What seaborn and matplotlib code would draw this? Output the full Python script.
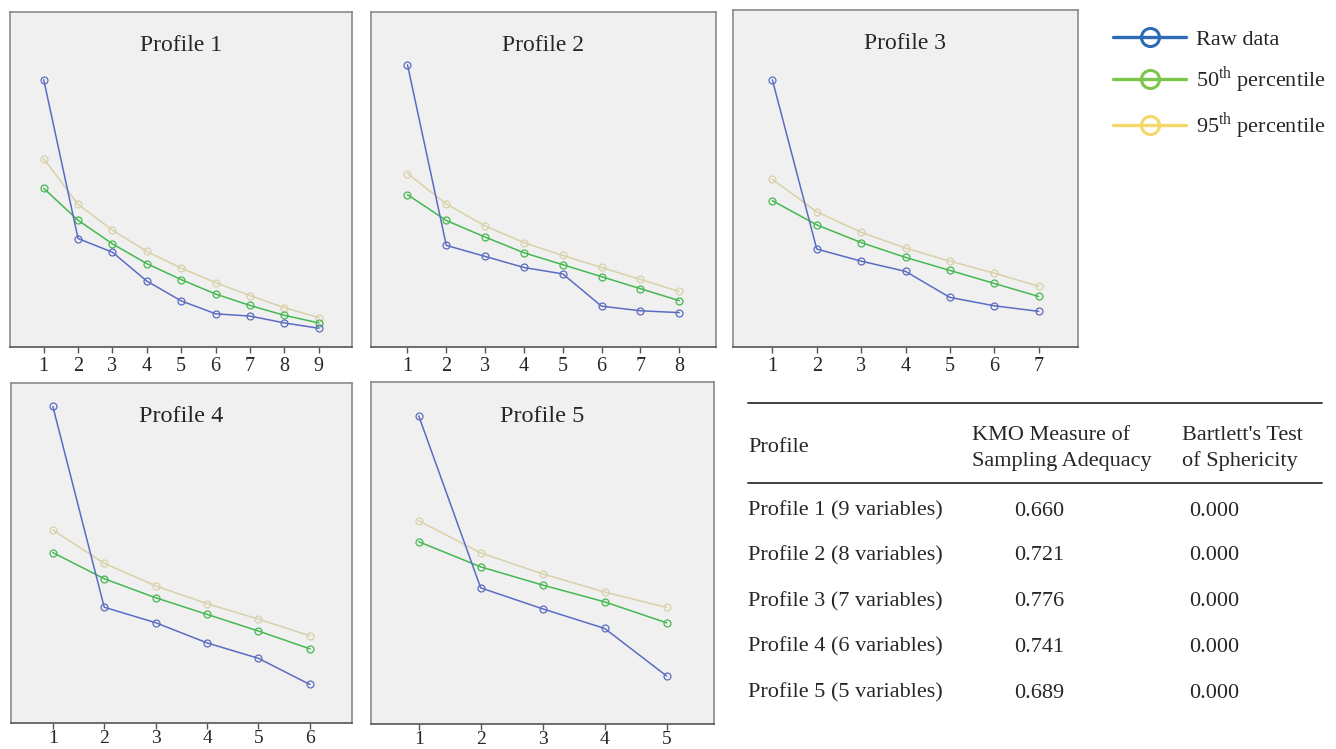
import pandas as pd
import matplotlib
matplotlib.use("Agg")
import matplotlib.pyplot as plt
import seaborn as sns
from matplotlib.lines import Line2D

# eigenvalues (raw data vs. parallel analysis percentiles)
raw_p1 = [3.51, 1.42, 1.24, 0.86, 0.60, 0.43, 0.40, 0.31, 0.24]
p50_p1 = [2.08, 1.66, 1.35, 1.09, 0.88, 0.69, 0.54, 0.41, 0.31]
p95_p1 = [2.47, 1.87, 1.53, 1.25, 1.03, 0.84, 0.67, 0.51, 0.38]

raw_p2 = [3.06, 1.10, 0.98, 0.86, 0.79, 0.44, 0.39, 0.37]
p50_p2 = [1.65, 1.37, 1.19, 1.02, 0.89, 0.76, 0.63, 0.50]
p95_p2 = [1.88, 1.55, 1.31, 1.13, 0.99, 0.86, 0.73, 0.60]

raw_p3 = [2.87, 1.05, 0.92, 0.81, 0.53, 0.44, 0.38]
p50_p3 = [1.57, 1.31, 1.12, 0.96, 0.82, 0.68, 0.54]
p95_p3 = [1.80, 1.45, 1.23, 1.06, 0.92, 0.79, 0.65]

raw_p4 = [2.66, 0.97, 0.84, 0.67, 0.54, 0.32]
p50_p4 = [1.43, 1.21, 1.05, 0.91, 0.77, 0.62]
p95_p4 = [1.62, 1.34, 1.15, 1.00, 0.87, 0.73]

raw_p5 = [2.20, 0.97, 0.82, 0.68, 0.34]
p50_p5 = [1.30, 1.12, 0.99, 0.87, 0.72]
p95_p5 = [1.45, 1.22, 1.07, 0.94, 0.83]

panel_titles = ["Profile 1", "Profile 2", "Profile 3", "Profile 4", "Profile 5"]
series_names = ["Raw data", "50th percentile", "95th percentile"]

table_profiles = ["Profile 1 (9 variables)", "Profile 2 (8 variables)", "Profile 3 (7 variables)",
                  "Profile 4 (6 variables)", "Profile 5 (5 variables)"]
table_kmo = ["0.660", "0.721", "0.776", "0.741", "0.689"]
table_bartlett = ["0.000", "0.000", "0.000", "0.000", "0.000"]

panels = [
    (raw_p1, p50_p1, p95_p1),
    (raw_p2, p50_p2, p95_p2),
    (raw_p3, p50_p3, p95_p3),
    (raw_p4, p50_p4, p95_p4),
    (raw_p5, p50_p5, p95_p5),
]

sns.set_style("white")
plt.rcParams['font.family'] = ['Liberation Serif', 'DejaVu Serif']
plt.rcParams['mathtext.fontset'] = 'custom'
plt.rcParams['mathtext.rm'] = 'Liberation Serif'

W, H = 1336, 749
fig = plt.figure(figsize=(W / 100, H / 100), dpi=100)


def rect(x0, y0, x1, y1):
    # pixel box -> figure fraction
    return [x0 / W, 1 - y1 / H, (x1 - x0) / W, (y1 - y0) / H]


# panel boxes (pixels), x padding, y top, title size, tick label size, tick pad
layout = [
    (rect(10, 12, 352.5, 346.5), 0.98, 4.40, 17, 14.5, 3),
    (rect(371, 12.3, 715.7, 346.7), 0.94, 3.63, 17, 14.5, 3),
    (rect(733.3, 10, 1077.7, 346.7), 0.88, 3.62, 17, 14.5, 3),
    (rect(10.7, 382.7, 352, 722.5), 0.82, 2.86, 17.5, 14, 1),
    (rect(371, 382.3, 714.3, 723.5), 0.77, 2.44, 17.5, 14, 1),
]

line_colors = ["#5b6cc2", "#45b851", "#d9d1aa"]

for (raw, p50, p95), title, (box, pad, ytop, tsize, ksize, kpad) in zip(panels, panel_titles, layout):
    n = len(raw)
    df = pd.DataFrame({
        "Component": list(range(1, n + 1)) * 3,
        "Eigenvalue": raw + p50 + p95,
        "Series": [series_names[0]] * n + [series_names[1]] * n + [series_names[2]] * n,
    })
    ax = fig.add_axes(box)
    ax.set_facecolor("#f0f0f0")
    sns.lineplot(data=df, x="Component", y="Eigenvalue", hue="Series",
                 hue_order=series_names[::-1], palette=dict(zip(series_names, line_colors)),
                 marker="o", markersize=5, linewidth=1.1, legend=False, ax=ax)
    for ln in ax.lines:
        c = ln.get_color()
        ln.set_markerfacecolor("none")
        ln.set_markeredgecolor(c)
        ln.set_markeredgewidth(0.9)
    ax.set_xlim(1 - pad, n + pad)
    ax.set_ylim(0, ytop)
    ax.set_xticks(range(1, n + 1))
    ax.set_yticks([])
    ax.set_xlabel("")
    ax.set_ylabel("")
    ax.tick_params(axis="x", direction="out", length=4.5, width=1, color="#555555",
                   labelsize=ksize, pad=kpad, bottom=True)
    for s in ax.spines.values():
        s.set_color("#8a8a8a")
        s.set_linewidth(1.2)
    ax.spines["bottom"].set_color("#555555")
    ax.text(0.5, 0.9, title, transform=ax.transAxes, ha="center", va="center", fontsize=tsize)

# legend in the top right corner
leg_colors = ["#2d6cb5", "#7cc64c", "#f5d76a"]
leg_labels = ["Raw data", "50$^{\\mathrm{th}}$ percentile", "95$^{\\mathrm{th}}$ percentile"]
handles = [Line2D([0], [0], color=c, lw=2.4, marker="o", markersize=13, mfc="none",
                  mec=c, mew=2.2) for c in leg_colors]
fig.legend(handles, leg_labels, loc="upper left", bbox_to_anchor=(1113 / W, 1 - 29 / H),
           frameon=False, fontsize=16, handlelength=3.3, handletextpad=0.45,
           labelspacing=0.66, borderpad=0, borderaxespad=0)

# KMO / Bartlett table
def ftext(x, y, s, **kw):
    fig.text(x / W, 1 - (y + 3) / H, s, va="center", fontsize=16, **kw)

def hline(y, lw):
    fig.add_artist(Line2D([748 / W, 1322 / W], [1 - y / H, 1 - y / H], color="#333333", lw=lw))

hline(403, 1.3)
hline(483, 1.3)
ftext(748, 444, "Profile")
ftext(972, 432, "KMO Measure of")
ftext(972, 458, "Sampling Adequacy")
ftext(1182, 432, "Bartlett's Test")
ftext(1182, 458, "of Sphericity")
row_y = [508, 553, 599, 644, 690]
for y, lab, k, b in zip(row_y, table_profiles, table_kmo, table_bartlett):
    ftext(748, y, lab)
    ftext(1039, y, k, ha="center")
    ftext(1214, y, b, ha="center")

fig.savefig("out.png", dpi=100)
